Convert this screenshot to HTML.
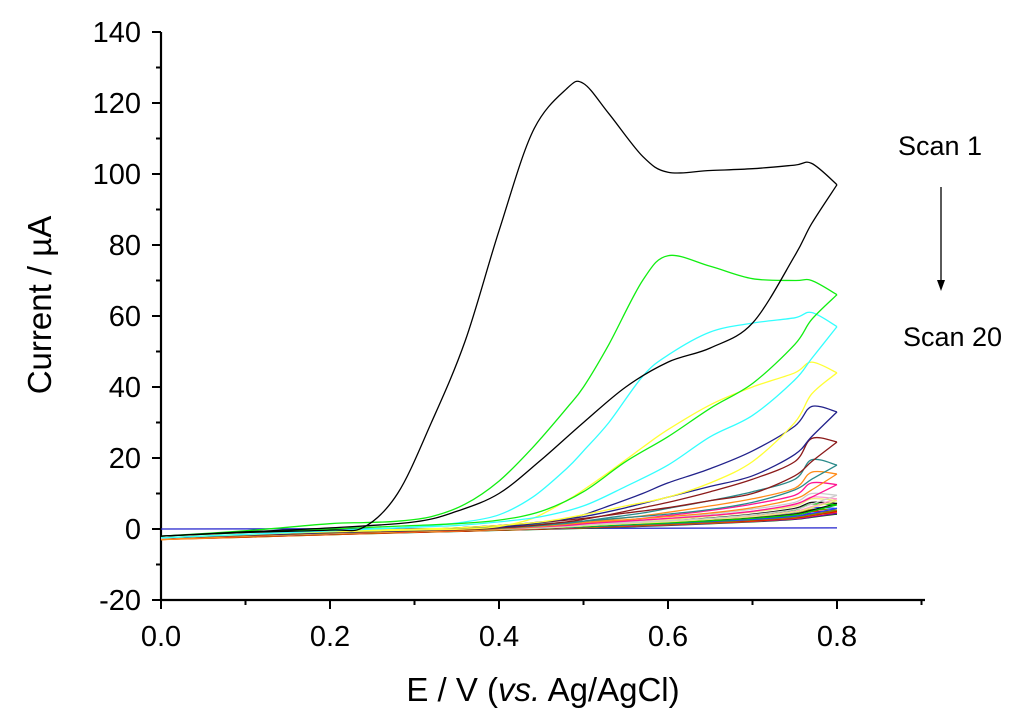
<!DOCTYPE html>
<html><head><meta charset="utf-8"><style>
html,body{margin:0;padding:0;background:#fff;}
svg{display:block;font-family:"Liberation Sans",sans-serif;}
</style></head><body>
<svg id="chart" width="1024" height="724" viewBox="0 0 1024 724" xmlns="http://www.w3.org/2000/svg">
<g id="axes"></g>
<g id="series"></g>
<text x="543" y="701" text-anchor="middle" font-size="33">E / V (<tspan font-style="italic">vs.</tspan> Ag/AgCl)</text>
<text transform="translate(51,305) rotate(-90)" text-anchor="middle" font-size="33">Current / µA</text>
<text x="898" y="155" font-size="27">Scan 1</text>
<line x1="941" y1="187" x2="941" y2="282" stroke="#000" stroke-width="1.3"/>
<polygon points="937,280 945,280 941,291" fill="#000"/>
<text x="903" y="346" font-size="27">Scan 20</text>
</svg>
<script>
const xTicks=[0,0.2,0.4,0.6,0.8];
const xTickLabels=["0.0","0.2","0.4","0.6","0.8"];
const yTicks=[-20,0,20,40,60,80,100,120,140];
const yTickLabels=["-20","0","20","40","60","80","100","120","140"];
const fwdV=[0,0.1,0.2,0.24,0.28,0.32,0.36,0.4,0.44,0.48,0.5,0.53,0.57,0.6,0.65,0.7,0.75,0.77,0.8];
const revV=[0.8,0.77,0.75,0.7,0.65,0.6,0.55,0.5,0.45,0.4,0.35,0.3,0.2,0.1,0];
const scanColors=["#000000","#11ee11","#33ffff","#ffff33","#22228b","#8b1a1a","#2a8a8a","#ff8c1a","#ff1493","#cccccc","#eeee77","#ff99cc","#00cc00","#111111","#2244ff","#888800","#ee0000","#ff7700","#8800aa","#006600"];
const scanFwd=[
[-2,-1,-0.3,0.5,10,30,53,84,112,124,125.5,117,105,100.5,101,101.5,102.5,103,97],
[-2,-0.5,1.5,1.8,2.2,3.5,7,13.5,23,34,40,52,70,77,74,70.5,70,70,66],
[-2.5,-1.5,-0.5,0,0.3,1,2,4,9,17,22,30,43,49,55.5,58,59.5,61,57],
[-2.5,-1.5,-0.8,-0.6,-0.4,-0.2,0,0.7,3,8,11,16,23,28,35,40,44,47,44],
[-2.5,-1.6,-0.9,-0.7,-0.5,-0.3,0,0.5,1.5,3,4,6.5,10,13,17,22,29,34.5,33],
[-2.5,-1.7,-1,-0.8,-0.6,-0.4,-0.2,0.3,1,2,2.7,4,6,7.5,10.5,14,19,25.5,24.5],
[-2.5,-1.7,-1,-0.8,-0.6,-0.4,-0.2,0.2,0.8,1.6,2.2,3.2,4.5,5.8,8,10.5,14,19.5,18],
[-3,-2,-1.2,-1,-0.8,-0.6,-0.4,0,0.6,1.3,1.8,2.6,3.7,4.7,6.5,8.5,11.5,16,15.5],
[-2.5,-1.8,-1.1,-0.9,-0.7,-0.5,-0.3,0,0.5,1,1.4,2,3,3.8,5.2,7,9.5,13,12.5],
[-2.5,-1.8,-1.1,-0.9,-0.7,-0.5,-0.3,0,0.3,0.8,1.1,1.6,2.4,3,4.2,5.6,7.5,10,9.5],
[-2.5,-1.8,-1.1,-0.9,-0.7,-0.5,-0.3,-0.1,0.2,0.6,0.9,1.3,2,2.6,3.6,4.8,6.4,8.5,8],
[-2.8,-1.9,-1.2,-1,-0.8,-0.6,-0.4,-0.1,0.2,0.6,0.9,1.3,2,2.6,3.7,5,6.8,9,8.5],
[-2.5,-1.8,-1.1,-0.9,-0.7,-0.5,-0.3,-0.1,0.2,0.5,0.7,1,1.6,2.1,3,4,5.4,7,6.8],
[-2.6,-1.8,-1.1,-0.9,-0.7,-0.5,-0.3,-0.1,0.2,0.5,0.7,1.1,1.7,2.2,3.1,4.2,5.8,7.5,7.2],
[-2.5,-1.8,-1.1,-0.9,-0.7,-0.5,-0.3,-0.1,0.1,0.4,0.6,0.9,1.4,1.8,2.6,3.5,4.7,6,5.8],
[-2.7,-1.9,-1.2,-1,-0.8,-0.6,-0.4,-0.2,0.1,0.4,0.5,0.8,1.3,1.7,2.4,3.2,4.3,5.5,5.3],
[-2.8,-2,-1.3,-1.1,-0.9,-0.7,-0.5,-0.2,0,0.3,0.5,0.7,1.2,1.5,2.2,3,4,5,4.9],
[-3,-2.1,-1.4,-1.2,-1,-0.8,-0.6,-0.3,0,0.3,0.4,0.7,1.1,1.5,2.1,2.9,3.9,5,4.8],
[-2.8,-2,-1.3,-1.1,-0.9,-0.7,-0.5,-0.3,0,0.2,0.4,0.6,1,1.3,1.9,2.6,3.5,4.5,4.4],
[-2.9,-2.1,-1.4,-1.2,-1,-0.8,-0.6,-0.3,-0.1,0.2,0.3,0.6,0.9,1.2,1.8,2.5,3.4,4.3,4.2]
];
const scanRev=[
[97,86,77,58,51,47,40,30,19.5,10,5,2,0.3,-0.8,-2],
[66,59,52,41,34,26,19,10.5,5,2.5,1.5,1,0,-1,-2],
[57,48,42,32,26,18,12,6.5,3.5,2,1,0.5,-0.5,-1.5,-2.5],
[44,38,30,19,13,9,6.5,4,2,1,0.3,0,-0.7,-1.6,-2.5],
[33,26,21,15,12,9,6,3.5,2,1,0.3,-0.2,-0.9,-1.7,-2.5],
[24.5,19,15,10,8,6,4.5,3,1.8,1,0.3,-0.2,-1,-1.8,-2.5],
[18,14,11,7.5,5.5,4.2,3.2,2.2,1.4,0.7,0.2,-0.3,-1.1,-1.8,-2.5],
[15.5,11,8.5,6,4.5,3.5,2.6,1.8,1.1,0.5,0,-0.5,-1.2,-2,-3],
[12.5,9,7,5,3.8,3,2.2,1.5,0.9,0.4,0,-0.4,-1.1,-1.8,-2.5],
[9.5,7,5.5,4,3,2.3,1.7,1.1,0.6,0.2,-0.1,-0.5,-1.2,-1.9,-2.5],
[8,6,4.8,3.5,2.7,2,1.5,1,0.5,0.1,-0.2,-0.5,-1.2,-1.9,-2.5],
[8.5,6.3,5,3.6,2.8,2.1,1.5,1,0.5,0.1,-0.2,-0.6,-1.3,-2,-2.8],
[6.8,5,4,3,2.3,1.7,1.3,0.8,0.4,0,-0.2,-0.5,-1.2,-1.9,-2.5],
[7.2,5.3,4.2,3.1,2.4,1.8,1.3,0.8,0.4,0,-0.3,-0.6,-1.3,-2,-2.6],
[5.8,4.4,3.6,2.7,2.1,1.6,1.2,0.7,0.3,0,-0.3,-0.6,-1.2,-1.9,-2.5],
[5.3,4,3.3,2.5,1.9,1.4,1,0.6,0.2,-0.1,-0.4,-0.7,-1.4,-2.1,-2.7],
[4.9,3.8,3.1,2.3,1.8,1.3,0.9,0.5,0.1,-0.2,-0.5,-0.8,-1.5,-2.2,-2.8],
[4.8,3.7,3,2.2,1.7,1.2,0.8,0.4,0,-0.3,-0.6,-0.9,-1.6,-2.3,-3],
[4.4,3.4,2.8,2.1,1.6,1.1,0.7,0.3,0,-0.3,-0.6,-0.9,-1.5,-2.2,-2.8],
[4.2,3.3,2.7,2,1.5,1,0.6,0.2,-0.1,-0.4,-0.7,-1,-1.6,-2.3,-2.9]
];
const baselineV=[0,0.8];
const baselineI=[0,0.3];

const X0=161, PXV=845, Y0=529, PXI=3.55;
function sx(v){return X0+v*PXV;}
function sy(i){return Y0-i*PXI;}
const NS="http://www.w3.org/2000/svg";
function mk(tag,attrs,parent){const e=document.createElementNS(NS,tag);for(const k in attrs)e.setAttribute(k,attrs[k]);parent.appendChild(e);return e;}
const axes=document.getElementById('axes');
const yAx=mk('line',{x1:X0,y1:sy(140),x2:X0,y2:sy(-20)+1,stroke:'#000','stroke-width':2.2},axes);


const xAx=mk('line',{x1:X0-1,y1:sy(-20),x2:925,y2:sy(-20),stroke:'#000','stroke-width':2.2},axes);


const yb=sy(-20);
xTicks.forEach((v,k)=>{
  const t=mk('line',{x1:sx(v),y1:yb,x2:sx(v),y2:yb+9,stroke:'#000','stroke-width':2},axes);
  
  
  const l=mk('text',{x:sx(v),y:yb+46,'text-anchor':'middle','font-size':29},axes);
  l.textContent=xTickLabels[k];
  
  
  const m=mk('line',{x1:sx(v+0.1),y1:yb,x2:sx(v+0.1),y2:yb+5,stroke:'#000','stroke-width':2},axes);
  
  
});
yTicks.forEach((v,k)=>{
  const t=mk('line',{x1:X0-9,y1:sy(v),x2:X0,y2:sy(v),stroke:'#000','stroke-width':2},axes);
  
  
  const l=mk('text',{x:X0-20,y:sy(v)+10,'text-anchor':'end','font-size':29},axes);
  l.textContent=yTickLabels[k];
  
  
  if(v<140){
    const m=mk('line',{x1:X0-5,y1:sy(v+10),x2:X0,y2:sy(v+10),stroke:'#000','stroke-width':2},axes);
    
    
  }
});
function smooth(pts){
  let d='M'+pts[0][0].toFixed(1)+','+pts[0][1].toFixed(1);
  for(let i=0;i<pts.length-1;i++){
    const p0=pts[Math.max(0,i-1)],p1=pts[i],p2=pts[i+1],p3=pts[Math.min(pts.length-1,i+2)];
    const c1=[p1[0]+(p2[0]-p0[0])/6,p1[1]+(p2[1]-p0[1])/6];
    const c2=[p2[0]-(p3[0]-p1[0])/6,p2[1]-(p3[1]-p1[1])/6];
    d+='C'+c1[0].toFixed(1)+','+c1[1].toFixed(1)+' '+c2[0].toFixed(1)+','+c2[1].toFixed(1)+' '+p2[0].toFixed(1)+','+p2[1].toFixed(1);
  }
  return d;
}
const sg=document.getElementById('series');
const bl=mk('path',{d:smooth(baselineV.map((v,i)=>[sx(v),sy(baselineI[i])])),fill:'none',stroke:'#2222cc','stroke-width':1.2},sg);


for(let s=scanFwd.length-1;s>=0;s--){
  const pts=fwdV.map((v,i)=>[sx(v),sy(scanFwd[s][i])]);
  const rpts=revV.map((v,i)=>[sx(v),sy(scanRev[s][i])]);
  const p1=mk('path',{d:smooth(pts),fill:'none',stroke:scanColors[s],'stroke-width':1.3},sg);
  
  
  const p2=mk('path',{d:smooth(rpts),fill:'none',stroke:scanColors[s],'stroke-width':1.3},sg);
  
  
}
</script>
</body></html>
